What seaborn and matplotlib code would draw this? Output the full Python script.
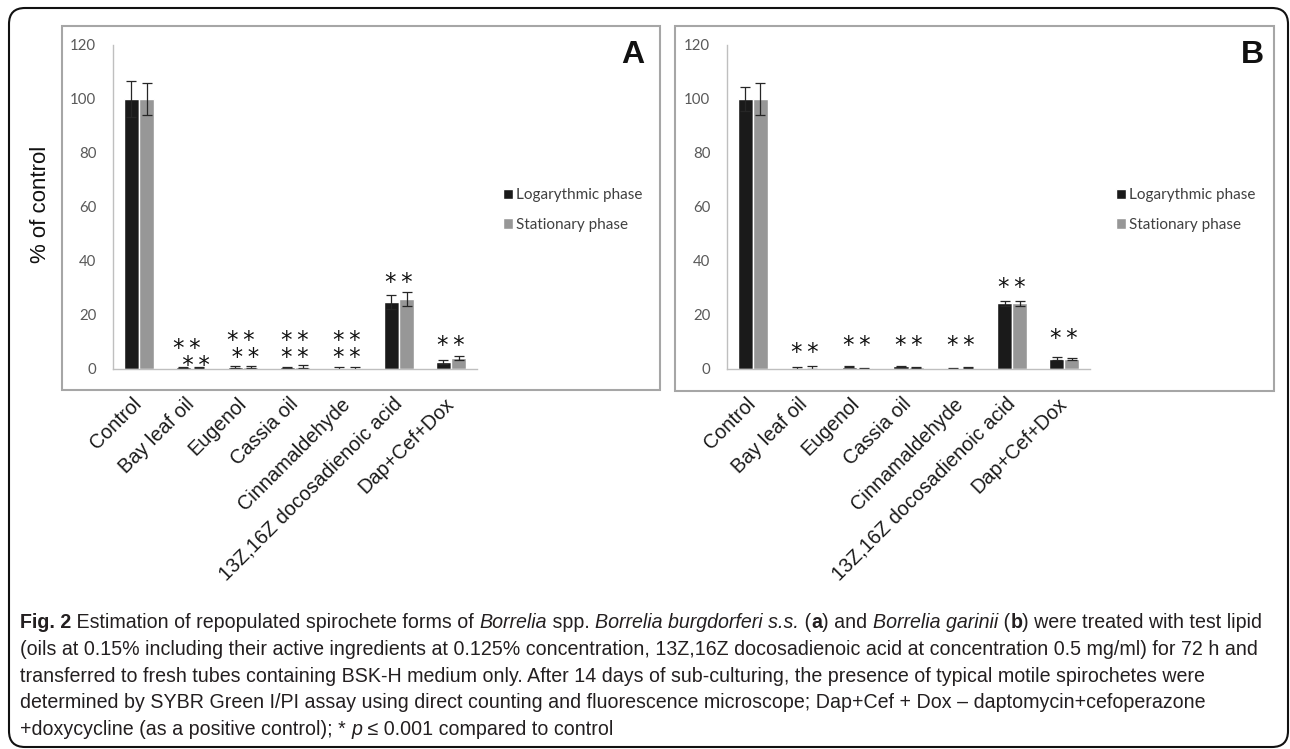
import numpy as np
import pandas as pd
import matplotlib
matplotlib.use("Agg")
import matplotlib.pyplot as plt
import matplotlib.transforms as mtransforms
from matplotlib.patches import FancyBboxPatch, Rectangle
import seaborn as sns

treatments = ["Control", "Bay leaf oil", "Eugenol", "Cassia oil", "Cinnamaldehyde",
              "13Z,16Z docosadienoic acid", "Dap+Cef+Dox"]
phases = ["Logarythmic phase", "Stationary phase"]

# panel A - Borrelia burgdorferi s.s. (% of control, mean and error)
a_log = [100, 0.6, 0.7, 0.6, 0.3, 24.8, 2.6]
a_log_err = [6.5, 0.2, 0.5, 0.3, 0.5, 2.6, 0.6]
a_stat = [100, 0.4, 0.6, 0.8, 0.3, 25.9, 4.1]
a_stat_err = [5.8, 0.2, 0.4, 0.6, 0.6, 2.6, 0.6]

# panel B - Borrelia garinii
b_log = [100, 0.3, 0.8, 1.0, 0.3, 24.3, 3.8]
b_log_err = [4.6, 0.4, 0.2, 0.2, 0.2, 0.8, 0.6]
b_stat = [100, 0.5, 0.2, 0.6, 0.4, 24.3, 3.7]
b_stat_err = [6.0, 0.5, 0.1, 0.3, 0.2, 1.0, 0.5]

# significance marks: category, mark text, height of the lowest row
SS = "*\u2009*"
a_star_cat = [1, 2, 3, 4, 5, 6]
a_star_txt = [SS + "\n\u2009\u2009" + SS, SS + "\n\u2009" + SS, SS + "\n" + SS,
              SS + "\n" + SS, SS, SS]
a_star_y = [3.3, 6.3, 6.3, 6.3, 34, 10.7]
b_star_cat = [1, 2, 3, 4, 5, 6]
b_star_txt = [SS] * 6
b_star_y = [8.1, 10.7, 10.7, 10.7, 32, 13]

W, H = 1290, 749
BLACK = "#1a1a1a"
GRAY = "#979797"
AXGRAY = "#bfbfbf"
TXTGRAY = "#595959"
LABEL_FONT = ["Liberation Sans", "DejaVu Sans"]
TICK_FONT = ["Lato", "DejaVu Sans"]
CAP_FONT = ["Liberation Sans", "DejaVu Sans"]

sns.set_style("white")
plt.rcParams["font.family"] = LABEL_FONT

fig = plt.figure(figsize=(W / 100, H / 100), dpi=100)
pix = mtransforms.IdentityTransform()


def fy(y):
    # y measured from the top of the picture -> display coords
    return H - y


def draw_panel(ax, log_vals, log_err, stat_vals, stat_err, star_cat, star_txt, star_y):
    df = pd.DataFrame({
        "treatment": treatments * 2,
        "phase": [phases[0]] * len(treatments) + [phases[1]] * len(treatments),
        "value": log_vals + stat_vals,
    })
    sns.barplot(data=df, x="treatment", y="value", hue="phase", order=treatments,
                hue_order=phases, palette=[BLACK, GRAY], width=0.58, errorbar=None,
                saturation=1, legend=False, ax=ax)
    for cont, errs in zip(ax.containers, [log_err, stat_err]):
        xs = [p.get_x() + p.get_width() / 2 for p in cont]
        ys = [p.get_height() for p in cont]
        ax.errorbar(xs, ys, yerr=errs, fmt="none", ecolor="#262626",
                    elinewidth=0.9, capsize=3.5, capthick=0.9)

    ax.set_xlim(-0.5, len(treatments) - 0.5)
    ax.set_ylim(0, 120)
    ax.set_yticks(np.arange(0, 121, 20))
    ax.set_xticks(range(len(treatments)))
    ax.set_xticklabels(treatments, rotation=45, ha="right", va="center",
                       rotation_mode="anchor", fontsize=14.3, color="#1a1a1a")
    ax.set_xticks(np.arange(-0.5, len(treatments), 1), minor=True)
    ax.tick_params(axis="x", which="major", length=0, pad=23)
    ax.tick_params(axis="x", which="minor", length=5, width=1, color=AXGRAY)
    ax.tick_params(axis="y", length=4, width=1, color=AXGRAY, pad=8,
                   labelsize=10.8, labelcolor=TXTGRAY)
    for lab in ax.get_yticklabels():
        lab.set_family(TICK_FONT)
    ax.set_xlabel("")
    ax.set_ylabel("")
    for s in ["top", "right"]:
        ax.spines[s].set_visible(False)
    for s in ["left", "bottom"]:
        ax.spines[s].set_color(AXGRAY)
        ax.spines[s].set_linewidth(1)
    ax.set_facecolor("none")

    shift = mtransforms.offset_copy(ax.transData, fig=fig, x=0, y=-8.3, units="points")
    for c, txt, y in zip(star_cat, star_txt, star_y):
        ax.text(c, y, txt, transform=shift, ha="center", va="baseline",
                multialignment="left", linespacing=0.64,
                fontsize=16.5, color="#111111", family=["DejaVu Sans"])


# panel frames and outer frame
fig.patches.append(FancyBboxPatch((9, fy(747)), 1279, 739, boxstyle="round,pad=0,rounding_size=16",
                                  transform=pix, fill=False, ec="#111111", lw=1.5, figure=fig))
fig.patches.append(Rectangle((62, fy(390)), 598, 364, transform=pix, fill=False,
                             ec="#a6a6a6", lw=1.5, figure=fig))
fig.patches.append(Rectangle((675, fy(391)), 599, 365, transform=pix, fill=False,
                             ec="#a6a6a6", lw=1.5, figure=fig))

ax_a = fig.add_axes([113 / W, 1 - 369 / H, (477 - 113) / W, (369 - 45) / H])
ax_b = fig.add_axes([727 / W, 1 - 369 / H, (1090 - 727) / W, (369 - 45) / H])
draw_panel(ax_a, a_log, a_log_err, a_stat, a_stat_err, a_star_cat, a_star_txt, a_star_y)
draw_panel(ax_b, b_log, b_log_err, b_stat, b_stat_err, b_star_cat, b_star_txt, b_star_y)

fig.text(40 / W, 1 - 204 / H, "% of control", rotation=90, ha="center", va="center",
         fontsize=16, color="#111111")
fig.text(633 / W, 1 - 55 / H, "A", ha="center", va="center", fontsize=23,
         fontweight="bold", color="#111111")
fig.text(1252 / W, 1 - 55 / H, "B", ha="center", va="center", fontsize=23,
         fontweight="bold", color="#111111")

handles = [Rectangle((0, 0), 1, 1, fc=BLACK), Rectangle((0, 0), 1, 1, fc=GRAY)]
for x0 in [495, 1108]:
    fig.legend(handles, phases, loc="center left", bbox_to_anchor=(x0 / W, 1 - 210 / H),
               frameon=False, borderpad=0, handlelength=0.65, handleheight=0.65,
               handletextpad=0.25, labelspacing=1.02,
               prop={"family": TICK_FONT, "size": 11}, labelcolor="#404040")

# caption
caption = [
    [("Fig. 2", "bold"), (" Estimation of repopulated spirochete forms of ", ""), ("Borrelia", "italic"),
     (" spp. ", ""), ("Borrelia burgdorferi s.s.", "italic"), (" (", ""), ("a", "bold"), (") and ", ""),
     ("Borrelia garinii", "italic"), (" (", ""), ("b", "bold"), (") were treated with test lipid", "")],
    [("(oils at 0.15% including their active ingredients at 0.125% concentration, 13Z,16Z docosadienoic "
      "acid at concentration 0.5 mg/ml) for 72 h and", "")],
    [("transferred to fresh tubes containing BSK-H medium only. After 14 days of sub-culturing, the "
      "presence of typical motile spirochetes were", "")],
    [("determined by SYBR Green I/PI assay using direct counting and fluorescence microscope; "
      "Dap+Cef + Dox \u2013 daptomycin+cefoperazone", "")],
    [("+doxycycline (as a positive control); * ", ""), ("p", "italic"), (" \u2264 0.001 compared to control", "")],
]
baselines = [628, 655, 682, 708, 735]

renderer = fig.canvas.get_renderer()
for runs, base in zip(caption, baselines):
    x = 20
    for txt, style in runs:
        t = fig.text(x, fy(base), txt, transform=pix, va="baseline", ha="left",
                     fontsize=14.1, family=CAP_FONT, color="#231f20",
                     fontweight="bold" if style == "bold" else "normal",
                     fontstyle="italic" if style == "italic" else "normal")
        x = t.get_window_extent(renderer).x1

fig.savefig("out.png", dpi=100)
